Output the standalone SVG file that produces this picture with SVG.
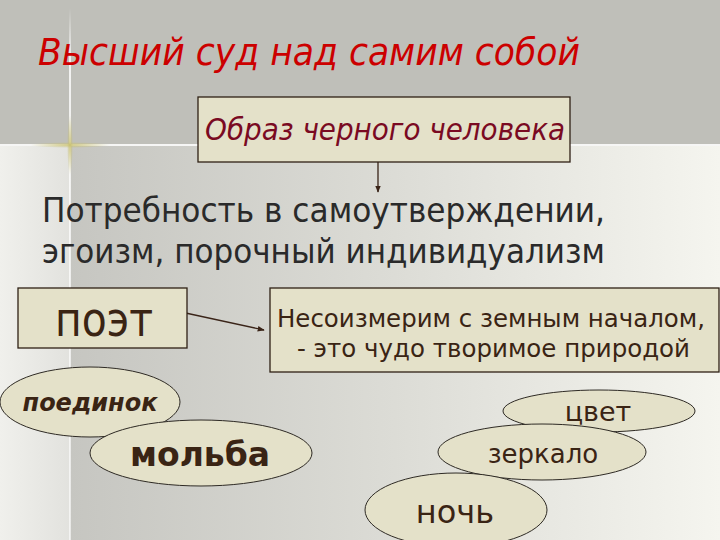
<svg xmlns="http://www.w3.org/2000/svg" width="720" height="540" viewBox="0 0 720 540">
<defs>
<linearGradient id="bgR" x1="0" y1="0" x2="1" y2="0">
<stop offset="0" stop-color="#c6c6c1"/>
<stop offset="0.5" stop-color="#dcdcd6"/>
<stop offset="1" stop-color="#f5f5ef"/>
</linearGradient>
<linearGradient id="bgL" x1="0" y1="0" x2="1" y2="0">
<stop offset="0" stop-color="#f0f0ec"/>
<stop offset="1" stop-color="#e2e2de"/>
</linearGradient>
<linearGradient id="vl" x1="0" y1="0" x2="0" y2="1">
<stop offset="0" stop-color="#ffffff" stop-opacity="0"/>
<stop offset="0.1" stop-color="#ffffff" stop-opacity="0.8"/>
<stop offset="1" stop-color="#ffffff" stop-opacity="0.6"/>
</linearGradient>
<radialGradient id="glow">
<stop offset="0" stop-color="#c8c070" stop-opacity="0.9"/>
<stop offset="1" stop-color="#c8c070" stop-opacity="0"/>
</radialGradient>
<marker id="ah" viewBox="0 0 10 10" refX="9" refY="5" markerWidth="7" markerHeight="7" orient="auto" markerUnits="userSpaceOnUse">
<path d="M0,1 L10,5 L0,9 z" fill="#3a2418"/>
</marker>
<style>
.box{fill:#e4e1c9;stroke:#2e2014;stroke-width:1.3}
.ell{fill:#e4e1c9;stroke:#2e2a24;stroke-width:1}
.t{font-family:"DejaVu Sans","Liberation Sans",sans-serif;fill:#3a2414}
.con{stroke:#3a2418;stroke-width:1.3;fill:none}
</style>
</defs>
<rect x="0" y="0" width="720" height="146" fill="#bfbfb9"/>
<rect x="70" y="146" width="650" height="394" fill="url(#bgR)"/>
<rect x="0" y="146" width="70" height="394" fill="url(#bgL)"/>
<rect x="0" y="144" width="720" height="2" fill="#ffffff" opacity="0.85"/>
<rect x="69" y="8" width="2" height="532" fill="url(#vl)"/>
<ellipse cx="70" cy="145" rx="40" ry="3" fill="url(#glow)"/>
<ellipse cx="70" cy="145" rx="3" ry="30" fill="url(#glow)"/>

<text x="38" y="65" class="t" style="font-style:italic;fill:#cc0000;font-size:37px" textLength="542" lengthAdjust="spacingAndGlyphs">Высший суд над самим собой</text>

<g id="connectors">
<line class="con" x1="378" y1="162" x2="378" y2="192" marker-end="url(#ah)"/>
<line class="con" x1="181" y1="312" x2="264" y2="330" marker-end="url(#ah)"/>
</g>

<g id="obraz">
<rect class="box" x="198" y="97" width="372" height="65"/>
<text x="205" y="140" class="t" style="font-style:italic;fill:#7a0a22;font-size:30px" textLength="360" lengthAdjust="spacingAndGlyphs">Образ черного человека</text>
</g>

<g id="potrebnost">
<text x="42" y="222" class="t" style="fill:#2a2a2a;font-size:33px" textLength="563" lengthAdjust="spacingAndGlyphs">Потребность в самоутверждении,</text>
<text x="42" y="263" class="t" style="fill:#2a2a2a;font-size:33px" textLength="563" lengthAdjust="spacingAndGlyphs">эгоизм, порочный индивидуализм</text>
</g>

<g id="poet">
<rect class="box" x="18" y="288" width="169" height="60"/>
<text x="55" y="336" class="t" style="font-size:48px" textLength="98" lengthAdjust="spacingAndGlyphs">поэт</text>
</g>

<g id="nesoizmerim">
<rect class="box" x="270" y="288" width="449" height="84"/>
<text x="277" y="327" class="t" style="font-size:25px" textLength="428" lengthAdjust="spacingAndGlyphs">Несоизмерим с земным началом,</text>
<text x="297" y="357" class="t" style="font-size:25px" textLength="393" lengthAdjust="spacingAndGlyphs">- это чудо творимое природой</text>
</g>

<g id="poedinok">
<ellipse class="ell" cx="90" cy="402" rx="90" ry="35"/>
<text x="90" y="411" class="t" style="font-size:24px;font-weight:bold;font-style:italic" text-anchor="middle">поединок</text>
</g>

<g id="molba">
<ellipse class="ell" cx="201" cy="453" rx="111" ry="33"/>
<text x="200" y="466" class="t" style="font-size:33px;font-weight:bold" text-anchor="middle">мольба</text>
</g>

<g id="cvet">
<ellipse class="ell" cx="599" cy="411" rx="96" ry="21"/>
<text x="598" y="421" class="t" style="font-size:27px" text-anchor="middle">цвет</text>
</g>

<g id="zerkalo">
<ellipse class="ell" cx="542" cy="452" rx="104" ry="28"/>
<text x="543" y="463" class="t" style="font-size:26px" text-anchor="middle">зеркало</text>
</g>

<g id="noch">
<ellipse class="ell" cx="456" cy="510" rx="91" ry="37"/>
<text x="455" y="523" class="t" style="font-size:32px" text-anchor="middle">ночь</text>
</g>
</svg>
